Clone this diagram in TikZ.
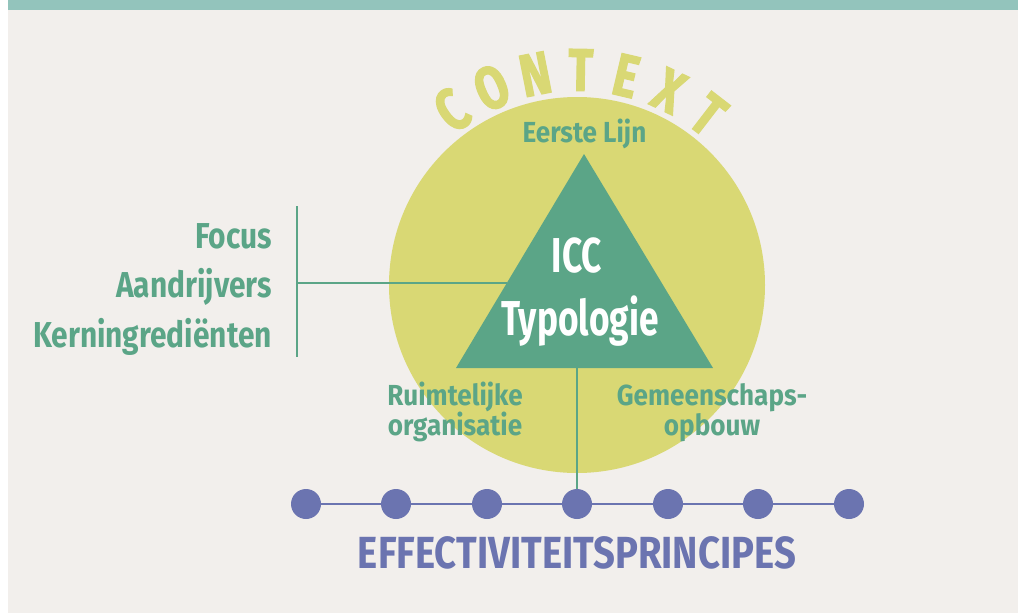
\documentclass[tikz,border=0pt]{standalone}
\usepackage{fontspec}
\setmainfont{Fira Sans}
\newfontfamily\lblfont[FakeStretch=0.83]{Fira Sans}
\newfontfamily\subfont[FakeStretch=0.9]{Fira Sans}
\newfontfamily\iccfont[FakeStretch=0.72]{Fira Sans}
\newfontfamily\efffont[FakeStretch=0.85]{Fira Sans}
\newfontfamily\ctxfont[FakeStretch=0.76,FakeBold=2]{Fira Sans}
\definecolor{bgc}{HTML}{F2EFEC}
\definecolor{barc}{HTML}{93C4BC}
\definecolor{limec}{HTML}{D9D874}
\definecolor{grnc}{HTML}{5BA587}
\definecolor{purc}{HTML}{6B74B0}
\begin{document}
\begin{tikzpicture}[x=1pt,y=-1pt,
  lbl/.style={text=grnc,inner sep=0pt,font=\lblfont\bfseries\fontsize{36}{36}\selectfont},
  sublbl/.style={text=grnc,inner sep=0pt,font=\subfont\bfseries\fontsize{29}{29}\selectfont},
  icc/.style={text=white,inner sep=0pt,font=\iccfont\bfseries\fontsize{49}{49}\selectfont},
  eff/.style={text=purc,inner sep=0pt,font=\efffont\bfseries\fontsize{45}{45}\selectfont},
  ctxl/.style={text=limec,inner sep=0pt,font=\ctxfont\bfseries\fontsize{60}{60}\selectfont},
  dot/.style={circle,fill=purc,minimum size=30pt,inner sep=0pt},
  gline/.style={draw=grnc,line width=2.5pt},
  pline/.style={draw=purc,line width=2.5pt}]
\useasboundingbox (0,0) rectangle (1018,613);
\fill[white] (0,0) rectangle (1018,613);
\fill[bgc] (8,0) rectangle (1018,613);
\fill[barc] (8,0) rectangle (1018,10);
% circle
\coordinate (cc) at (577,285);
\fill[limec] (cc) circle[radius=188];
% CONTEXT letters
\foreach \a/\l/\n in {125.6/C/c1,113.4/O/c2,101.2/N/c3,89.0/T/c4,76.8/E/c5,64.6/X/c6,52.4/T/c7}{
  \node[ctxl,rotate=\a-90] (\n) at ([shift={(-\a:215)}]cc) {\l};
}
% triangle
\coordinate (ta) at (584,154);
\coordinate (tl) at (456,368);
\coordinate (tr) at (713,368);
\coordinate (tb) at (577,368);
\fill[grnc] (ta) -- (tl) -- (tr) -- cycle;
\node[icc,anchor=base] (icc) at (577,272) {ICC};
\node[icc,anchor=base] (typ) at (580,335) {Typologie};
\node[sublbl,anchor=base] (eerste) at (584.5,142) {Eerste Lijn};
\node[sublbl,anchor=base] (ruim) at (455,405) {Ruimtelijke};
\node[sublbl,anchor=base] (org) at (455,435) {organisatie};
\node[sublbl,anchor=base] (gem) at (712,405) {Gemeenschaps-};
\node[sublbl,anchor=base] (opb) at (712,435) {opbouw};
% left labels
\node[lbl,anchor=base east] (focus) at (272,248) {Focus};
\node[lbl,anchor=base east] (aand) at (272,297) {Aandrijvers};
\node[lbl,anchor=base east] (kern) at (272,347) {Kerningrediënten};
\coordinate (vt) at (297,206);
\coordinate (vb) at (297,357);
\coordinate (vm) at (297,283);
\coordinate (te) at (507,283);
\draw[gline] (vt) -- (vb);
\draw[gline] (vm) -- (te);
% dots
\foreach \i/\x in {1/306,2/396,3/487,4/577,5/668,6/758,7/849}{
  \node[dot] (d\i) at (\x,504) {};
}
\foreach \i/\j in {1/2,2/3,3/4,4/5,5/6,6/7}{
  \draw[pline] (d\i) -- (d\j);
}
\draw[gline] (tb) -- (d4);
\node[eff,anchor=base] (effp) at (577,568) {EFFECTIVITEITSPRINCIPES};
\end{tikzpicture}
\end{document}
